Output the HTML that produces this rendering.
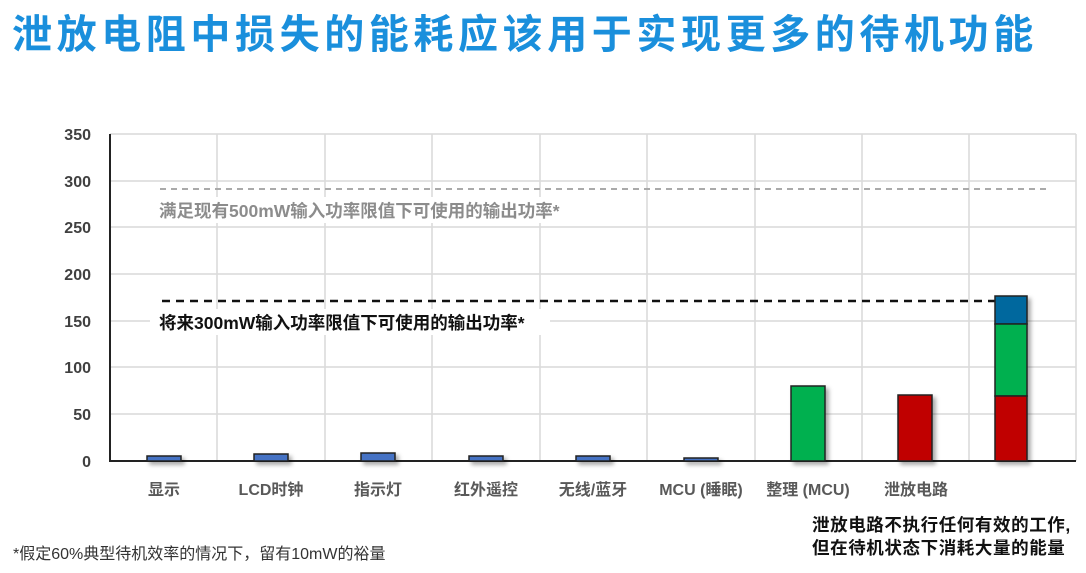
<!DOCTYPE html>
<html><head><meta charset="utf-8"><style>
body{margin:0;width:1086px;height:573px;background:#fff;overflow:hidden;position:relative;font-family:"Liberation Sans","Noto Sans CJK SC",sans-serif}
.t{position:absolute;white-space:nowrap}
</style></head><body>
<div class="t" style="left:12px;top:2px;font-size:40px;font-weight:bold;color:#1a8fdc;letter-spacing:4.6px">泄放电阻中损失的能耗应该用于实现更多的待机功能</div>
<svg width="1086" height="573" style="position:absolute;left:0;top:0">
<defs><filter id="s" x="-20%" y="-20%" width="150%" height="150%"><feDropShadow dx="3" dy="3" stdDeviation="2" flood-color="#000" flood-opacity="0.35"/></filter></defs>
<g stroke="#d9d9d9" stroke-width="1.5">
<line x1="110" y1="134" x2="1076" y2="134"/><line x1="110" y1="181" x2="1076" y2="181"/><line x1="110" y1="227" x2="1076" y2="227"/><line x1="110" y1="274" x2="1076" y2="274"/><line x1="110" y1="321" x2="1076" y2="321"/><line x1="110" y1="367" x2="1076" y2="367"/><line x1="110" y1="414" x2="1076" y2="414"/>
<line x1="217" y1="134" x2="217" y2="461"/><line x1="325" y1="134" x2="325" y2="461"/><line x1="432" y1="134" x2="432" y2="461"/><line x1="540" y1="134" x2="540" y2="461"/><line x1="647" y1="134" x2="647" y2="461"/><line x1="755" y1="134" x2="755" y2="461"/><line x1="862" y1="134" x2="862" y2="461"/><line x1="969" y1="134" x2="969" y2="461"/><line x1="1076" y1="134" x2="1076" y2="461"/>
</g>
<line x1="110" y1="134" x2="110" y2="462" stroke="#222" stroke-width="2"/>
<line x1="109" y1="461" x2="1076" y2="461" stroke="#222" stroke-width="2"/>
<g font-size="16" font-weight="bold" fill="#404040" text-anchor="end">
<text x="91" y="140">350</text><text x="91" y="187">300</text><text x="91" y="233">250</text><text x="91" y="280">200</text><text x="91" y="327">150</text><text x="91" y="373">100</text><text x="91" y="420">50</text><text x="91" y="467">0</text>
</g>
<line x1="160" y1="189" x2="1050" y2="189" stroke="#aaa" stroke-width="2" stroke-dasharray="6,5"/>
<rect x="152" y="197" width="430" height="26" fill="#fff"/>
<text x="159" y="217" font-size="17.5" font-weight="bold" fill="#8c8c8c">满足现有500mW输入功率限值下可使用的输出功率*</text>
<line x1="162" y1="301" x2="995" y2="301" stroke="#111" stroke-width="2.5" stroke-dasharray="8,6"/>
<rect x="150" y="309" width="400" height="26" fill="#fff"/>
<text x="159" y="329" font-size="17.5" font-weight="bold" fill="#111">将来300mW输入功率限值下可使用的输出功率*</text>
<g filter="url(#s)" stroke="#222" stroke-width="1.5">
<rect x="147" y="456" width="34" height="5" fill="#4472c4"/>
<rect x="254" y="454" width="34" height="7" fill="#4472c4"/>
<rect x="361" y="453" width="34" height="8" fill="#4472c4"/>
<rect x="469" y="456" width="34" height="5" fill="#4472c4"/>
<rect x="576" y="456" width="34" height="5" fill="#4472c4"/>
<rect x="684" y="458" width="34" height="3" fill="#4472c4"/>
<rect x="791" y="386" width="34" height="75" fill="#00b050"/>
<rect x="898" y="395" width="34" height="66" fill="#c00000"/>
<rect x="995" y="296" width="32" height="28" fill="#00679e"/>
<rect x="995" y="324" width="32" height="72" fill="#00b050"/>
<rect x="995" y="396" width="32" height="65" fill="#c00000"/>
</g>
<g font-size="16" font-weight="bold" fill="#595959" text-anchor="middle">
<text x="164" y="495">显示</text><text x="271" y="495">LCD时钟</text><text x="378" y="495">指示灯</text><text x="486" y="495">红外遥控</text><text x="593" y="495">无线/蓝牙</text><text x="701" y="495">MCU (睡眠)</text><text x="808" y="495">整理 (MCU)</text><text x="916" y="495">泄放电路</text>
</g>
<g font-size="17.5" font-weight="bold" fill="#111" letter-spacing="0.6">
<text x="812" y="531">泄放电路不执行任何有效的工作,</text><text x="812" y="554">但在待机状态下消耗大量的能量</text>
</g>
<text x="13" y="559" font-size="16" fill="#333">*假定60%典型待机效率的情况下，留有10mW的裕量</text>
</svg>
</body></html>
